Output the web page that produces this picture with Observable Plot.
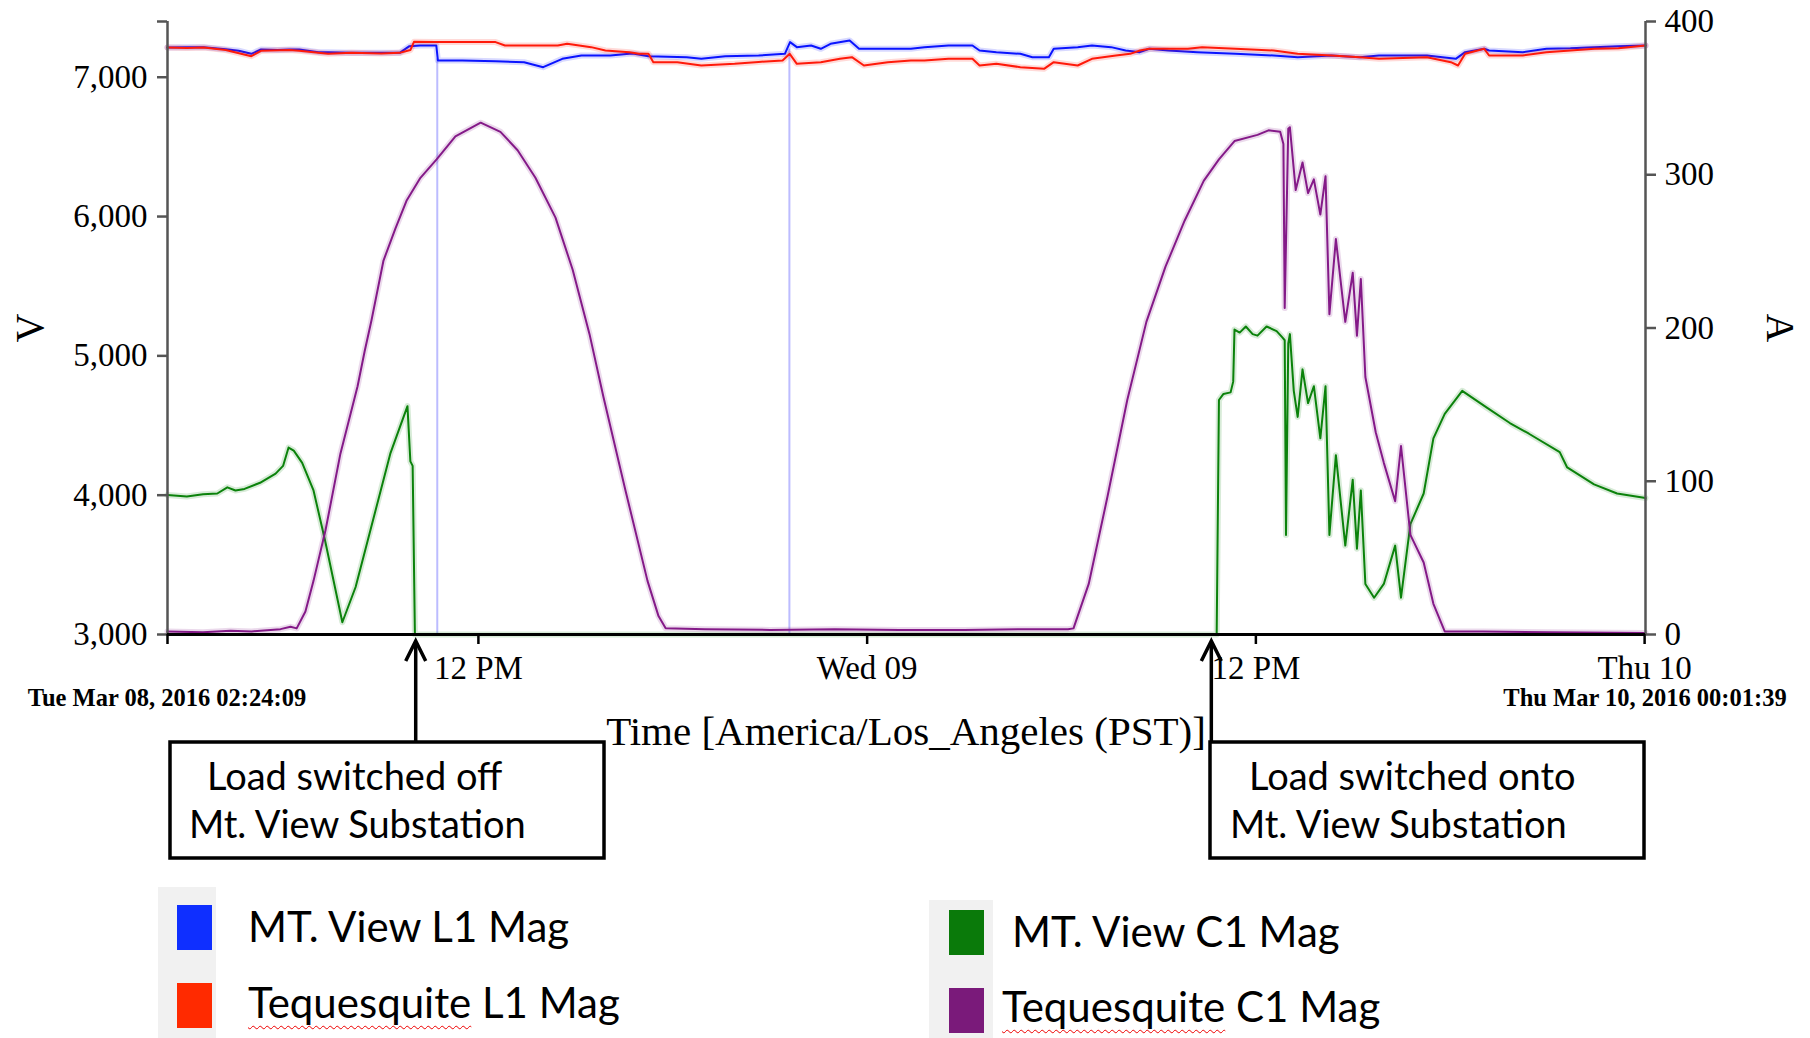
<!DOCTYPE html>
<html>
<head>
<meta charset="utf-8">
<script src="https://cdn.jsdelivr.net/npm/d3@7"></script>
<script src="https://cdn.jsdelivr.net/npm/@observablehq/plot@0.6"></script>
<style>
  body { margin: 0; background: #fff; }
  #wrap { position: relative; width: 1810px; height: 1038px; overflow: hidden; background: #fff; }
  #chart { position: absolute; left: 0; top: 0; }
  .strip { position: absolute; background: #f1f1f1; }
  .sw { position: absolute; }
  .lab { position: absolute; font-family: Lato, "Open Sans", sans-serif; font-size: 42px; color: #000; line-height: 42px; white-space: nowrap; }
  .wavy { text-decoration-line: underline; text-decoration-style: wavy; text-decoration-color: #e00; text-decoration-thickness: 1px; text-underline-offset: 7px; }
</style>
</head>
<body>
<div id="wrap">
  <div id="chart"></div>
  <div id="legend"></div>
</div>
<script>
// ---------- DATA (time = hours since 2016-03-08 00:00 PST) ----------
const startT = 2 + 24 / 60 + 9 / 3600;   // Tue Mar 08, 2016 02:24:09
const endT = 48 + 1 / 60 + 39 / 3600;    // Thu Mar 10, 2016 00:01:39

// MT. View L1 Mag (V)
const blueT = [2.40,3.0,3.52,4.2,4.6,4.99,5.29,5.8,6.17,6.47,7.06,7.36,8.09,9.0,9.57,9.87,10.2,10.70,10.75,11.5,12.53,13.41,14.00,14.59,15.18,15.48,16.07,16.66,16.81,17.25,18.43,18.88,19.62,20.65,21.46,21.62,21.83,22.27,22.57,22.87,23.46,23.75,24.34,25.35,25.77,26.51,27.25,27.47,27.99,28.73,29.10,29.61,29.76,30.50,30.94,31.53,31.98,32.42,32.71,33.30,34.19,35.37,36.55,37.29,38.33,39.21,39.80,41.28,42.17,42.46,43.05,43.20,44.24,44.97,45.71,46.45,47.19,48.03];
const blueV = [7213,7216,7216,7200,7190,7168,7199,7195,7199,7199,7180,7180,7175,7175,7175,7223,7228,7228,7120,7120,7114,7108,7072,7132,7156,7156,7156,7168,7168,7151,7144,7132,7151,7156,7168,7252,7216,7228,7204,7240,7264,7204,7204,7204,7216,7228,7228,7192,7180,7168,7144,7144,7204,7216,7228,7216,7192,7180,7204,7192,7180,7168,7156,7144,7156,7144,7156,7156,7132,7180,7204,7192,7180,7204,7208,7216,7223,7228];

// Tequesquite L1 Mag (V)
const redT = [2.40,3.0,3.52,4.2,4.99,5.29,6.17,6.47,7.06,7.36,8.09,9.0,9.57,9.90,10.01,10.68,11.5,12.53,12.82,13.41,14.00,14.45,14.74,15.48,15.92,16.66,16.96,17.25,17.40,18.14,18.88,19.91,20.65,21.39,21.61,21.83,22.57,23.16,23.53,23.90,24.64,25.35,25.77,26.51,27.25,27.47,27.99,28.73,29.46,29.76,30.50,30.94,31.68,32.12,32.42,32.71,33.90,34.34,35.37,36.55,37.29,38.33,39.21,39.80,41.28,42.02,42.24,42.46,43.05,43.20,44.24,44.97,45.71,46.45,47.19,48.03];
const redV = [7213,7210,7213,7195,7151,7190,7195,7190,7175,7168,7175,7170,7175,7195,7254,7252,7252,7252,7228,7228,7228,7228,7240,7216,7192,7180,7168,7168,7108,7108,7084,7096,7110,7120,7168,7096,7108,7132,7144,7084,7108,7120,7120,7132,7132,7084,7096,7072,7060,7108,7084,7132,7156,7168,7192,7204,7204,7216,7204,7192,7168,7156,7144,7132,7144,7108,7084,7168,7204,7156,7156,7180,7192,7204,7208,7228];

// MT. View C1 Mag (A)
const greenT = [2.40,3.0,3.5,3.94,4.25,4.5,4.78,5.26,5.74,5.97,6.14,6.3,6.56,6.91,7.27,7.80,8.21,8.69,9.28,9.81,9.90,9.97,10.04,34.79,34.86,35.0,35.22,35.30,35.34,35.5,35.69,35.9,36.05,36.33,36.64,36.81,36.89,36.93,37.0,37.05,37.17,37.29,37.44,37.61,37.79,37.99,38.15,38.27,38.47,38.76,38.99,39.12,39.24,39.38,39.65,39.95,40.30,40.48,40.77,41.18,41.48,41.83,42.37,43.13,43.84,44.43,45.38,45.61,46.44,47.15,48.03];
const greenA = [91,90,91.5,92,96,94,95,99,105,110,122,120,112,94,61,8,31,70,118,149,113,110,0,0,153,157,158,165,199,197,201,196,195,201,198,194,192,65,190,196,159,142,173,151,162,128,162,65,117,58,101,56,94,33,24,33,58,24,72,92,128,144,159,148,138,131,119,109,98,92,89];

// Tequesquite C1 Mag (A)
const purpleT = [2.40,3.5,4.35,5.0,5.89,6.20,6.39,6.66,6.91,7.28,7.74,8.27,8.49,8.70,9.07,9.44,9.78,10.21,10.71,11.29,12.07,12.68,13.21,13.76,14.38,14.91,15.43,15.86,16.54,17.22,17.56,17.78,19.0,21.0,23.0,25.0,27.0,29.0,30.2,30.37,30.84,31.42,32.03,32.62,33.21,33.80,34.39,34.86,35.34,36.05,36.39,36.75,36.85,36.89,37.0,37.05,37.23,37.44,37.61,37.79,37.99,38.15,38.27,38.47,38.76,38.99,39.12,39.24,39.38,39.70,39.95,40.30,40.48,40.77,41.18,41.48,41.83,43.0,45.0,48.03];
const purpleA = [2,1.5,2.5,2,3.5,5,4,15,35,68,118,162,185,205,244,265,283,298,310,325,334,328,316,298,272,238,196,155,94,35,12,4,3.5,3,3.5,3,3,3.5,3.5,4,33,90,153,204,240,270,296,310,322,326,329,328,320,213,330,331,290,308,288,297,274,299,209,258,204,236,195,232,168,132,112,87,123,65,47,20,2,2,1.5,1];

// Short voltage dropouts of MT. View L1 (drawn as faint spikes)
const dipT = [10.73, 21.60];
const dipV = [7130, 7200];

// Annotations: times the load was switched
const switchT = [10.08, 34.64];
const switchText = [["Load switched off", "Mt. View Substation"], ["Load switched onto", "Mt. View Substation"]];

// Ticks
const xTickHours = [startT, 12, 24, 36, 48];
const vTicks = [3000, 4000, 5000, 6000, 7000, 7400];
const aTicks = [0, 100, 200, 300, 400];

// Legend
const legendNames = ["MT. View L1 Mag", "Tequesquite L1 Mag", "MT. View C1 Mag", "Tequesquite C1 Mag"];
const lineColors = ["#0a14ff", "#ff1a0a", "#0b820b", "#841a88"];
const swatchColors = ["#0f2fff", "#ff2a00", "#0a7a0a", "#7a1a7a"];

// ---------- helpers ----------
const base = Date.UTC(2016, 2, 8);
const toDate = h => new Date(base + h * 3600000);
const vToA = v => (v - 3000) / 11;   // V axis 3000–7400 shares the frame with A axis 0–400
const aToV = a => a * 11 + 3000;
const rows = (T, Y, conv) => T.map((t, i) => ({date: toDate(t), y: conv(Y[i])}));
const ident = d => d;

const blue = rows(blueT, blueV, vToA);
const red = rows(redT, redV, vToA);
const green = rows(greenT, greenA, ident);
const purple = rows(purpleT, purpleA, ident);
const dips = rows(dipT, dipV, vToA);

const series = [blue, red, green, purple];
const lineMarks = series.flatMap((d, i) => [
  Plot.line(d, {x: "date", y: "y", stroke: lineColors[i], strokeWidth: 6, strokeOpacity: 0.16}),
  Plot.line(d, {x: "date", y: "y", stroke: lineColors[i], strokeWidth: 2})
]);

const startDate = toDate(startT), endDate = toDate(endT);
const fmtX = d => +d === +startDate ? "" : (d.getUTCHours() === 12 ? d3.utcFormat("%-I %p")(d) : d3.utcFormat("%a %d")(d));

const H = 870;
const chart = Plot.plot({
  width: 1810,
  height: H,
  marginTop: 21,
  marginBottom: H - 634,
  marginLeft: 167,
  marginRight: 165,
  x: {type: "utc", domain: [startDate, endDate]},
  y: {domain: [0, 400]},
  style: {fontFamily: "'Liberation Serif', 'Times New Roman', serif", fontSize: "33px", color: "#000", background: "#fff", overflow: "visible"},
  marks: [
    Plot.ruleX(dips, {x: "date", y1: 0, y2: "y", stroke: "#8f8fff", strokeWidth: 2, strokeOpacity: 0.6}),
    ...lineMarks,
    Plot.ruleX([startDate], {stroke: "#555", strokeWidth: 2.5}),
    Plot.ruleX([endDate], {stroke: "#555", strokeWidth: 2.5}),
    Plot.ruleY([0], {stroke: "#000", strokeWidth: 3}),
    Plot.axisY(vTicks.map(vToA), {anchor: "left", label: null, tickSize: 10, tickPadding: 10, stroke: "#555", strokeWidth: 2.5,
      tickFormat: a => { const v = Math.round(aToV(a)); return v === 7400 ? "" : d3.format(",")(v); }}),
    Plot.axisY(aTicks, {anchor: "right", label: null, tickSize: 10, tickPadding: 9, stroke: "#555", strokeWidth: 2.5, tickFormat: d3.format("d")}),
    Plot.axisX(xTickHours.map(toDate), {anchor: "bottom", label: null, tickSize: 10, tickPadding: 11, stroke: "#000", strokeWidth: 2.5, tickFormat: fmtX})
  ]
});
document.getElementById("chart").appendChild(chart);

// ---------- annotations drawn with the chart's own x scale ----------
const xs = chart.scale("x");
const svg = d3.select(chart);
const serif = "'Liberation Serif', 'Times New Roman', serif";
const sans = "Lato, 'Open Sans', sans-serif";

// axis titles
svg.append("text").attr("transform", "translate(43,328) rotate(-90)").attr("text-anchor", "middle")
  .attr("font-family", serif).attr("font-size", 40).text("V");
svg.append("text").attr("transform", "translate(1767,328) rotate(90)").attr("text-anchor", "middle")
  .attr("font-family", serif).attr("font-size", 40).text("A");
svg.append("text").attr("x", (xs.apply(startDate) + xs.apply(endDate)) / 2).attr("y", 745).attr("text-anchor", "middle")
  .attr("font-family", serif).attr("font-size", 41).text("Time [America/Los_Angeles (PST)]");
const fmtFull = d3.utcFormat("%a %b %d, %Y %H:%M:%S");
[startDate, endDate].forEach(d => {
  svg.append("text").attr("x", xs.apply(d)).attr("y", 706).attr("text-anchor", "middle")
    .attr("font-family", serif).attr("font-weight", "bold").attr("font-size", 24.5).text(fmtFull(d));
});

// boxes + arrows
const boxLeft = [170, 1210], boxTop = 742, boxW = 434, boxH = 116;
const indent = [[37, 19], [39, 20]];
switchT.forEach((t, i) => {
  const x = xs.apply(toDate(t));
  const g = svg.append("g");
  g.append("rect").attr("x", boxLeft[i]).attr("y", boxTop).attr("width", boxW).attr("height", boxH)
    .attr("fill", "#fff").attr("stroke", "#000").attr("stroke-width", 3.5);
  g.append("line").attr("x1", x).attr("x2", x).attr("y1", 643).attr("y2", boxTop)
    .attr("stroke", "#000").attr("stroke-width", 3.5);
  g.append("path").attr("d", `M${x - 10},${661}L${x},${641}L${x + 10},${661}`)
    .attr("fill", "none").attr("stroke", "#000").attr("stroke-width", 3.5).attr("stroke-linejoin", "miter");
  switchText[i].forEach((s, j) => {
    g.append("text").attr("x", boxLeft[i] + indent[i][j]).attr("y", j === 0 ? 790 : 838)
      .attr("text-anchor", "start")
      .attr("font-family", sans).attr("font-size", 38).attr("fill", "#000").text(s);
  });
});

// ---------- legend ----------
const leg = document.getElementById("legend");
const strips = [[158, 887, 58, 151], [929, 900, 64, 138]];
strips.forEach(([l, t, w, h]) => {
  const s = document.createElement("div"); s.className = "strip";
  Object.assign(s.style, {left: l + "px", top: t + "px", width: w + "px", height: h + "px"});
  leg.appendChild(s);
});
const swPos = [[177, 905], [177, 983], [949, 910], [949, 988]];
const labPos = [[248, 905], [248, 981], [1012, 910], [1002, 985]];
legendNames.forEach((name, i) => {
  const sw = document.createElement("div"); sw.className = "sw";
  Object.assign(sw.style, {left: swPos[i][0] + "px", top: swPos[i][1] + "px", width: "35px", height: "45px", background: swatchColors[i]});
  leg.appendChild(sw);
  const lab = document.createElement("div"); lab.className = "lab";
  Object.assign(lab.style, {left: labPos[i][0] + "px", top: labPos[i][1] + "px"});
  const [first, ...rest] = name.split(" ");
  if (first === "Tequesquite") {
    const sp = document.createElement("span"); sp.className = "wavy"; sp.textContent = first;
    lab.appendChild(sp);
    lab.appendChild(document.createTextNode(" " + rest.join(" ")));
  } else {
    lab.textContent = name;
  }
  leg.appendChild(lab);
});
</script>
</body>
</html>
